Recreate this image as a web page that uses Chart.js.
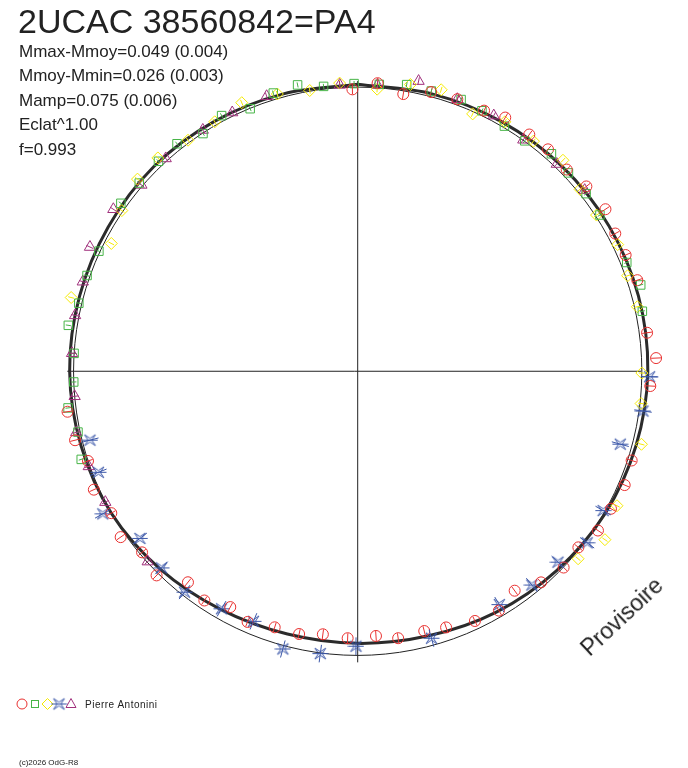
<!DOCTYPE html>
<html lang="fr">
<head>
<meta charset="UTF-8">
<title>2UCAC 38560842=PA4</title>
<script src="https://cdn.jsdelivr.net/npm/chart.js"></script>
<style>
  html, body { margin: 0; padding: 0; background: #fff; }
  #wrap {
    position: relative;
    width: 688px;
    height: 768px;
    overflow: hidden;
    font-family: "Liberation Sans", Arial, sans-serif;
    color: #222;
  }
  #phase { position: absolute; left: 0; top: 0; }
  .t { position: absolute; white-space: nowrap; line-height: 1; }
  #title { left: 18px; top: 4px; font-size: 34px; }
  .stat { left: 19px; font-size: 17px; }
  #author { left: 85px; top: 700px; font-size: 10px; letter-spacing: 0.5px; }
  #copy { left: 19px; top: 759px; font-size: 8px; }
  #provi {
    left: 590px; top: 638px; font-size: 23px;
    transform-origin: 0 19.5px;
    transform: rotate(-43deg);
  }
</style>
</head>
<body>
<div id="wrap">
  <canvas id="phase" width="688" height="768"></canvas>
  <div class="t" id="title">2UCAC 38560842=PA4</div>
  <div class="t stat" style="top:43px">Mmax-Mmoy=0.049 (0.004)</div>
  <div class="t stat" style="top:67px">Mmoy-Mmin=0.026 (0.003)</div>
  <div class="t stat" style="top:92px">Mamp=0.075 (0.006)</div>
  <div class="t stat" style="top:116px">Eclat^1.00</div>
  <div class="t stat" style="top:141px">f=0.993</div>
  <div class="t" id="author">Pierre Antonini</div>
  <div class="t" id="copy">(c)2026 OdG-R8</div>
  <div class="t" id="provi">Provisoire</div>
</div>

<script>
  // phase (0..1, clockwise from top) and magnitude relative to mean (positive = fainter)
  const fitPhase = [0, 0.0417, 0.0833, 0.125, 0.1667, 0.2083, 0.25, 0.2917, 0.3333, 0.375, 0.4167, 0.4583,
                    0.5, 0.5417, 0.5833, 0.625, 0.6667, 0.7083, 0.75, 0.7917, 0.8333, 0.875, 0.9167, 0.9583, 1];
  const fitMag = [-0.008, -0.009, -0.013, -0.019, -0.023, -0.025, -0.023, -0.015, -0.004, 0.011, 0.026, 0.042,
                  0.049, 0.049, 0.038, 0.019, 0.000, -0.009, -0.015, -0.015, -0.015, -0.017, -0.013, -0.009, -0.008];

  const redPhase = [0.997, 0.011, 0.026, 0.041, 0.056, 0.072, 0.084, 0.100, 0.113, 0.128, 0.142, 0.158, 0.172, 0.185,
                    0.200, 0.229, 0.243, 0.258, 0.300, 0.314, 0.329, 0.343, 0.357, 0.371, 0.386, 0.401, 0.415, 0.430,
                    0.447, 0.460, 0.476, 0.489, 0.506, 0.521, 0.535, 0.550, 0.566, 0.579, 0.594, 0.608, 0.624, 0.639,
                    0.653, 0.667, 0.683, 0.699, 0.712, 0.728];
  const redMag = [0.011, -0.015, 0.015, -0.015, -0.019, -0.019, -0.034, -0.030, -0.030, -0.023, -0.037, -0.045, -0.030, -0.030,
                  -0.038, -0.030, -0.056, -0.034, -0.015, -0.023, -0.015, -0.015, 0.008, 0.000, 0.019, 0.057, 0.026, 0.034,
                  0.053, 0.064, 0.057, 0.075, 0.068, 0.075, 0.060, 0.060, 0.042, 0.064, 0.034, 0.053, -0.008, 0.011,
                  -0.019, 0.000, -0.019, 0.000, -0.026, -0.034];

  const greenPhase = [0.879, 0.863, 0.848, 0.819, 0.804, 0.788, 0.775, 0.760, 0.744, 0.730, 0.716, 0.701, 0.893, 0.908,
                      0.922, 0.938, 0.953, 0.967, 0.981, 0.998, 0.012, 0.027, 0.041, 0.058, 0.071, 0.086, 0.100, 0.116,
                      0.130, 0.145, 0.159, 0.189, 0.203, 0.217];
  const greenMag = [-0.019, -0.015, -0.023, -0.004, -0.011, -0.011, -0.034, 0.000, 0.000, -0.030, -0.008, -0.023, -0.023, 0.004,
                    -0.019, 0.004, -0.023, -0.030, -0.008, -0.011, -0.011, -0.023, -0.019, -0.023, -0.015, -0.004, 0.000, -0.026,
                    -0.019, -0.019, -0.015, -0.023, -0.045, -0.026];

  const yellowPhase = [0.880, 0.864, 0.845, 0.826, 0.790, 0.899, 0.917, 0.935, 0.955, 0.973, 0.990, 0.011, 0.029, 0.046,
                       0.067, 0.085, 0.104, 0.123, 0.141, 0.158, 0.178, 0.196, 0.214, 0.251, 0.268, 0.290, 0.326, 0.345, 0.362];
  const yellowMag = [-0.030, -0.030, -0.004, 0.026, -0.045, -0.008, -0.011, -0.030, -0.015, 0.000, -0.015, 0.008, -0.026, -0.034,
                     0.011, -0.019, -0.019, -0.038, -0.011, -0.004, -0.019, -0.008, -0.011, 0.000, -0.004, -0.034, -0.030, -0.057, -0.019];

  const bluePhase = [0.253, 0.272, 0.293, 0.332, 0.352, 0.371, 0.391, 0.413, 0.457, 0.501, 0.521, 0.542, 0.563, 0.583,
                     0.606, 0.625, 0.646, 0.669, 0.691, 0.710];
  const blueMag = [-0.030, -0.015, 0.045, 0.008, -0.008, 0.030, 0.034, 0.045, 0.030, 0.038, 0.000, -0.011, 0.053, 0.042,
                   0.015, 0.026, 0.038, -0.030, 0.023, 0.030];

  const magentaPhase = [0.883, 0.863, 0.843, 0.819, 0.800, 0.781, 0.760, 0.736, 0.716, 0.696, 0.674, 0.633, 0.909, 0.928,
                        0.949, 0.990, 0.011, 0.033, 0.056, 0.078, 0.099, 0.122, 0.143];
  const magentaMag = [-0.008, -0.004, -0.034, -0.042, -0.019, -0.015, -0.008, 0.000, -0.015, -0.004, 0.000, 0.004, -0.008, -0.011,
                      -0.019, -0.008, -0.008, -0.045, -0.019, -0.019, 0.000, -0.011, -0.023];

  // one typical error per observer (mag)
  const errRed = 0.019, errGreen = 0.010, errYellow = 0.012, errBlue = 0.034, errMagenta = 0.015;

  const K = 0.912; // radius units per magnitude (mean magnitude = radius 1)

  function toXY(p, m) {
    const r = 1 - m * K;
    const a = 2 * Math.PI * p;
    return { x: r * Math.sin(a), y: r * Math.cos(a), p: p, m: m };
  }
  const pts = (ph, mg) => ph.map((p, i) => toXY(p, mg[i]));

  function makeStar(color) {
    const c = document.createElement('canvas');
    c.width = 17; c.height = 17;
    const g = c.getContext('2d');
    g.strokeStyle = color;
    g.lineWidth = 1;
    g.translate(8.5, 8.5);
    const o = 5.5, i = 1.8;
    g.beginPath();
    g.moveTo(-o, -o); g.lineTo(0, -i); g.lineTo(o, -o); g.lineTo(i, 0);
    g.lineTo(o, o); g.lineTo(0, i); g.lineTo(-o, o); g.lineTo(-i, 0);
    g.closePath();
    g.moveTo(-8, 0); g.lineTo(8, 0);
    g.stroke();
    return c;
  }

  const RED = '#e8302f', GREEN = '#46b446', YELLOW = '#f5ea00', BLUE = '#3a56a8', MAGENTA = '#a0307c';
  const starImg = makeStar(BLUE);

  function markerSet(label, ph, mg, color, style, radius, err) {
    return {
      label: label,
      data: pts(ph, mg),
      err: err,
      borderColor: color,
      backgroundColor: 'rgba(0,0,0,0)',
      pointStyle: style,
      pointRadius: radius,
      pointBorderWidth: 1,
      showLine: false,
      clip: false
    };
  }

  const guides = {
    id: 'guides',
    beforeDatasetsDraw(chart) {
      const ctx = chart.ctx, xs = chart.scales.x, ys = chart.scales.y;
      const cx = xs.getPixelForValue(0), cy = ys.getPixelForValue(0);
      const rad = xs.getPixelForValue(1) - cx;
      ctx.save();
      ctx.strokeStyle = '#222';
      ctx.lineWidth = 1;
      ctx.beginPath();
      ctx.moveTo(xs.getPixelForValue(-1.022), cy);
      ctx.lineTo(xs.getPixelForValue(0.998), cy);
      ctx.moveTo(cx, ys.getPixelForValue(1.019));
      ctx.lineTo(cx, ys.getPixelForValue(-1.022));
      ctx.stroke();
      ctx.beginPath();
      ctx.arc(cx, cy, rad, 0, 2 * Math.PI);
      ctx.stroke();
      ctx.restore();
    },
    afterDatasetsDraw(chart) {
      const ctx = chart.ctx, xs = chart.scales.x, ys = chart.scales.y;
      ctx.save();
      ctx.lineWidth = 1;
      chart.data.datasets.forEach(ds => {
        if (!ds.err) return;
        ctx.strokeStyle = ds.borderColor;
        ctx.beginPath();
        ds.data.forEach(d => {
          const a = toXY(d.p, d.m - ds.err), b = toXY(d.p, d.m + ds.err);
          ctx.moveTo(xs.getPixelForValue(a.x), ys.getPixelForValue(a.y));
          ctx.lineTo(xs.getPixelForValue(b.x), ys.getPixelForValue(b.y));
        });
        ctx.stroke();
      });
      ctx.restore();
    },
    afterDraw(chart) {
      // observer key at the bottom left
      const ctx = chart.ctx, y = 704;
      ctx.save();
      ctx.lineWidth = 1;
      ctx.strokeStyle = RED;
      ctx.beginPath(); ctx.arc(22, y, 5, 0, 2 * Math.PI); ctx.stroke();
      ctx.strokeStyle = GREEN;
      ctx.strokeRect(31.5, y - 3.5, 7, 7);
      ctx.strokeStyle = YELLOW;
      ctx.beginPath();
      ctx.moveTo(47.5, y - 5.5); ctx.lineTo(53, y); ctx.lineTo(47.5, y + 5.5); ctx.lineTo(42, y);
      ctx.closePath(); ctx.stroke();
      ctx.drawImage(starImg, 59 - 8.5, y - 8.5);
      ctx.strokeStyle = MAGENTA;
      ctx.beginPath();
      ctx.moveTo(71, y - 5.5); ctx.lineTo(76, y + 3.5); ctx.lineTo(66, y + 3.5);
      ctx.closePath(); ctx.stroke();
      ctx.restore();
    }
  };

  const fitData = pts(fitPhase, fitMag);

  new Chart(document.getElementById('phase'), {
    type: 'scatter',
    data: {
      datasets: [
        markerSet('red', redPhase, redMag, RED, 'circle', 5.5, errRed),
        markerSet('green', greenPhase, greenMag, GREEN, 'rect', 6, errGreen),
        markerSet('yellow', yellowPhase, yellowMag, YELLOW, 'rectRot', 6, errYellow),
        markerSet('blue', bluePhase, blueMag, BLUE, starImg, 6, errBlue),
        markerSet('magenta', magentaPhase, magentaMag, MAGENTA, 'triangle', 6.5, errMagenta),
        {
          label: 'fit',
          data: fitData,
          showLine: true,
          borderColor: '#2b2b2b',
          borderWidth: 3,
          pointRadius: 0,
          tension: 0.33,
          clip: false
        }
      ]
    },
    options: {
      responsive: false,
      animation: false,
      events: [],
      devicePixelRatio: 1,
      layout: { padding: 0 },
      plugins: {
        legend: { display: false },
        tooltip: { enabled: false },
        title: { display: false }
      },
      scales: {
        x: { type: 'linear', display: false, min: -1.2324, max: 1.1360 },
        y: { type: 'linear', display: false, min: -1.3666, max: 1.2771 }
      }
    },
    plugins: [guides]
  });
</script>
</body>
</html>
